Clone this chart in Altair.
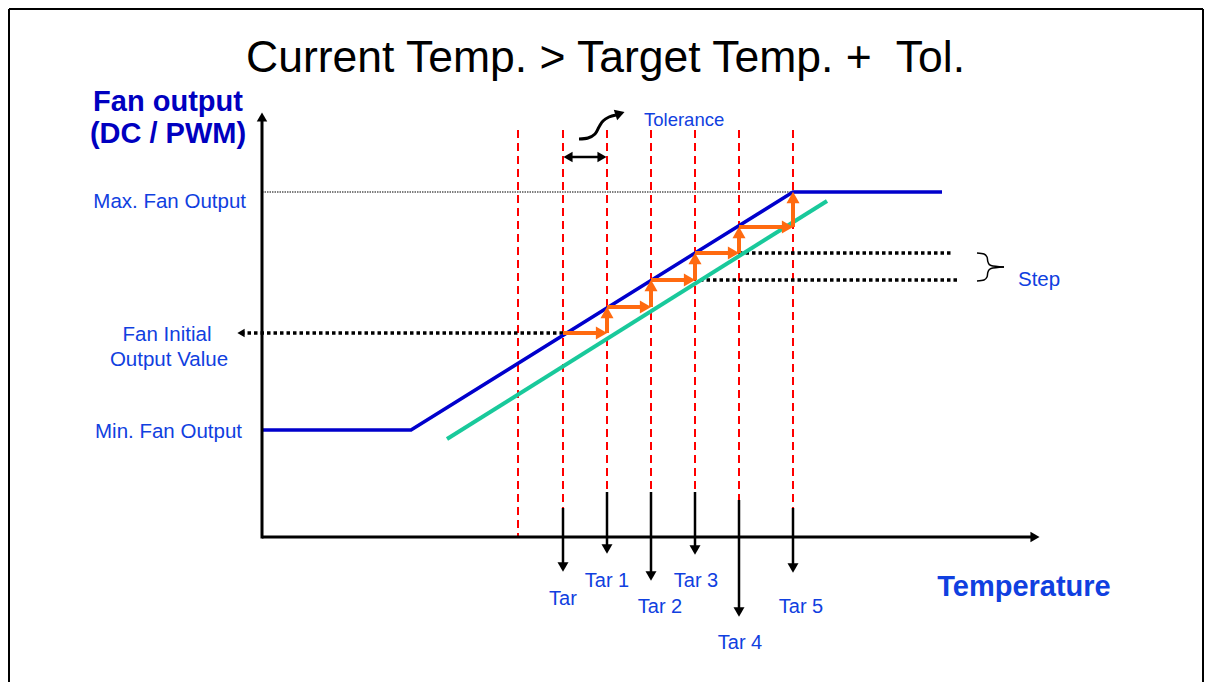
import altair as alt
import pandas as pd

# ---------------- canvas (diagram coordinates = page pixels) ----------------
W, H = 1196, 674
X0, Y0 = 8, 8
FONT = "Liberation Sans"
BLUE_TXT = "#1040E0"
DARK_BLUE = "#0000C0"
LINE_BLUE = "#0000CC"
GREEN = "#19C99B"
ORANGE = "#FF6A10"
RED = "#FF0000"

# ---------------- data ----------------
TITLE = "Current Temp. > Target Temp. +\u00a0 Tol."

# axes
AXIS_ORIGIN = (262, 537)
AXIS_Y_TOP = 118
AXIS_X_END = 1032

# output levels (y positions)
MAX_OUT = 192
MIN_OUT = 430
INIT_OUT = 333
STEP_LEVELS = [333, 307, 280, 253, 227]

# temperature positions
GRID_X = [518, 563, 607, 651, 695, 739, 793]
TARGET_X = [563, 607, 651, 695, 739, 793]
TAR_LABELS = ["Tar", "Tar 1", "Tar 2", "Tar 3", "Tar 4", "Tar 5"]
TAR_ARROW_TOP = [508, 492, 492, 492, 500, 508]
TAR_ARROW_TIP = [572, 554, 581, 555, 617, 573]
TAR_LABEL_X = [563, 607, 660, 696, 740, 801]
TAR_LABEL_Y = [605, 587, 613, 587, 649, 613]

# fan curve (blue) and shifted curve (green)
CURVE_X = [262, 411, 793, 942]
CURVE_Y = [430, 430, 192, 192]
GREEN_X = [447, 827]
GREEN_Y = [439, 201]

# step dotted lines
STEP_LINE_X1 = [739, 700]
STEP_LINE_X2 = [952, 957]
STEP_LINE_Y = [253, 280]

# curved "tolerance" pointer
CURVE_PTR_X = [579, 588, 595, 599, 603, 609, 616]
CURVE_PTR_Y = [139, 138, 134, 127, 121, 117, 115]

# brace
BRACE_TOP_X = [977, 984, 987, 988, 991, 1004]
BRACE_TOP_Y = [253, 254, 257, 262, 265.5, 267]
BRACE_BOT_X = [1004, 991, 988, 987, 984, 977]
BRACE_BOT_Y = [267, 268.5, 272, 277, 280, 281]

# ---------------- helpers ----------------
xs = alt.Scale(domain=[X0, X0 + W], nice=False, zero=False)
ys = alt.Scale(domain=[Y0, Y0 + H], nice=False, zero=False, reverse=True)


def XQ(f="x"):
    return alt.X(f"{f}:Q", scale=xs, axis=None)


def YQ(f="y"):
    return alt.Y(f"{f}:Q", scale=ys, axis=None)


def rules(df, **mark):
    return alt.Chart(df).mark_rule(**mark).encode(
        x=XQ(), y=YQ(), x2="x2:Q", y2="y2:Q")


def heads(df, color, size):
    return alt.Chart(df).mark_point(
        shape="triangle-right", filled=True, opacity=1, color=color,
        size=size, strokeWidth=0).encode(
        x=XQ(), y=YQ(), angle=alt.Angle("angle:Q", scale=None))


def texts(df, **mark):
    base = dict(font=FONT, baseline="alphabetic")
    base.update(mark)
    return alt.Chart(df).mark_text(**base).encode(
        x=XQ(), y=YQ(), text="t:N")


def seg(x, y, x2, y2):
    return dict(x=x, y=y, x2=x2, y2=y2)


layers = []

# border frame
border = pd.DataFrame([seg(9, 9, 9, 682), seg(9, 9, 1203, 9), seg(1203, 9, 1203, 682)])
layers.append(rules(border, color="black", strokeWidth=2))

# red dashed grid lines
grid = pd.DataFrame([seg(gx, 130, gx, AXIS_ORIGIN[1]) for gx in GRID_X])
layers.append(rules(grid, color=RED, strokeWidth=2, strokeDash=[8, 5]))

# max output thin dotted line
maxline = pd.DataFrame([seg(AXIS_ORIGIN[0], MAX_OUT, CURVE_X[2], MAX_OUT)])
layers.append(rules(maxline, color="black", strokeWidth=1.2, strokeDash=[1.5, 1]))

# thick dotted lines: initial output and steps
dotted = [seg(TARGET_X[0], INIT_OUT, 244, INIT_OUT)]
for a, b, yy in zip(STEP_LINE_X1, STEP_LINE_X2, STEP_LINE_Y):
    dotted.append(seg(a, yy, b, yy))
layers.append(rules(pd.DataFrame(dotted), color="black", strokeWidth=3.5, strokeDash=[3.5, 3]))
layers.append(heads(pd.DataFrame([dict(x=241, y=INIT_OUT, angle=180)]), "black", 70))

# green line
layers.append(rules(pd.DataFrame([seg(GREEN_X[0], GREEN_Y[0], GREEN_X[1], GREEN_Y[1])]),
                    color=GREEN, strokeWidth=4))

# blue fan curve
blue = pd.DataFrame({"x": CURVE_X, "y": CURVE_Y, "o": range(len(CURVE_X))})
layers.append(alt.Chart(blue).mark_line(color=LINE_BLUE, strokeWidth=3.5).encode(
    x=XQ(), y=YQ(), order="o:Q"))

# orange staircase
levels = STEP_LEVELS + [MAX_OUT]
osegs, oheads = [], []
for i in range(len(TARGET_X) - 1):
    xa, xb = TARGET_X[i], TARGET_X[i + 1]
    ya, yb = levels[i], levels[i + 1]
    osegs.append(seg(xa, ya, xb - 9, ya))
    oheads.append(dict(x=xb - 5.5, y=ya, angle=0))
    osegs.append(seg(xb, ya, xb, yb + 9))
    oheads.append(dict(x=xb, y=yb + 5.5, angle=270))
layers.append(rules(pd.DataFrame(osegs), color=ORANGE, strokeWidth=4))
layers.append(heads(pd.DataFrame(oheads), ORANGE, 170))

# axes
ox, oy = AXIS_ORIGIN
layers.append(rules(pd.DataFrame([seg(ox, oy + 1.5, ox, AXIS_Y_TOP), seg(ox, oy, AXIS_X_END, oy)]),
                    color="black", strokeWidth=3))
layers.append(heads(pd.DataFrame([dict(x=ox, y=AXIS_Y_TOP - 1, angle=270),
                                  dict(x=AXIS_X_END + 3, y=oy, angle=0)]), "black", 110))

# target down arrows
tsegs = [seg(tx, t0, tx, t1 - 6) for tx, t0, t1 in zip(TARGET_X, TAR_ARROW_TOP, TAR_ARROW_TIP)]
layers.append(rules(pd.DataFrame(tsegs), color="black", strokeWidth=2.5))
theads = [dict(x=tx, y=t1 - 5, angle=90) for tx, t1 in zip(TARGET_X, TAR_ARROW_TIP)]
layers.append(heads(pd.DataFrame(theads), "black", 120))

# tolerance double arrow
layers.append(rules(pd.DataFrame([seg(TARGET_X[0] + 6, 157, TARGET_X[1] - 6, 157)]),
                    color="black", strokeWidth=2.5))
layers.append(heads(pd.DataFrame([dict(x=TARGET_X[0] + 5, y=157, angle=180),
                                  dict(x=TARGET_X[1] - 5, y=157, angle=0)]), "black", 110))

# curved pointer
cp = pd.DataFrame({"x": CURVE_PTR_X, "y": CURVE_PTR_Y, "o": range(len(CURVE_PTR_X))})
layers.append(alt.Chart(cp).mark_line(color="black", strokeWidth=3, interpolate="cardinal").encode(
    x=XQ(), y=YQ(), order="o:Q"))
layers.append(heads(pd.DataFrame([dict(x=620, y=113.5, angle=342)]), "black", 120))

# brace
br = pd.DataFrame({
    "x": BRACE_TOP_X + BRACE_BOT_X,
    "y": BRACE_TOP_Y + BRACE_BOT_Y,
    "g": ["a"] * len(BRACE_TOP_X) + ["b"] * len(BRACE_BOT_X),
    "o": list(range(len(BRACE_TOP_X))) + list(range(len(BRACE_BOT_X))),
})
layers.append(alt.Chart(br).mark_line(color="black", strokeWidth=1.5, interpolate="cardinal").encode(
    x=XQ(), y=YQ(), detail="g:N", order="o:Q"))

# ---------------- texts ----------------
layers.append(texts(pd.DataFrame([dict(x=605.5, y=72, t=TITLE)]),
                    fontSize=44.5, color="black", align="center"))
layers.append(texts(pd.DataFrame([dict(x=168, y=111, t="Fan output"),
                                  dict(x=168, y=143, t="(DC / PWM)")]),
                    fontSize=29, fontWeight="bold", color=DARK_BLUE, align="center"))
layers.append(texts(pd.DataFrame([dict(x=1024, y=596, t="Temperature")]),
                    fontSize=29, fontWeight="bold", color=BLUE_TXT, align="center"))
layers.append(texts(pd.DataFrame([dict(x=246, y=208, t="Max. Fan Output"),
                                  dict(x=242, y=438, t="Min. Fan Output")]),
                    fontSize=20.5, color=BLUE_TXT, align="right"))
layers.append(texts(pd.DataFrame([dict(x=167, y=341, t="Fan Initial"),
                                  dict(x=169, y=366, t="Output Value")]),
                    fontSize=20.5, color=BLUE_TXT, align="center"))
layers.append(texts(pd.DataFrame([dict(x=1018, y=286, t="Step")]),
                    fontSize=20.5, color=BLUE_TXT, align="left"))
layers.append(texts(pd.DataFrame([dict(x=644, y=126, t="Tolerance")]),
                    fontSize=18.5, color=BLUE_TXT, align="left"))
layers.append(texts(pd.DataFrame({"x": TAR_LABEL_X, "y": TAR_LABEL_Y, "t": TAR_LABELS}),
                    fontSize=20, color=BLUE_TXT, align="center"))

chart = alt.layer(*layers).properties(
    width=W, height=H, padding=0, autosize="none", background="white"
).configure_view(stroke=None)

chart.save("out.html", embed_options={"renderer": "svg", "actions": False})
